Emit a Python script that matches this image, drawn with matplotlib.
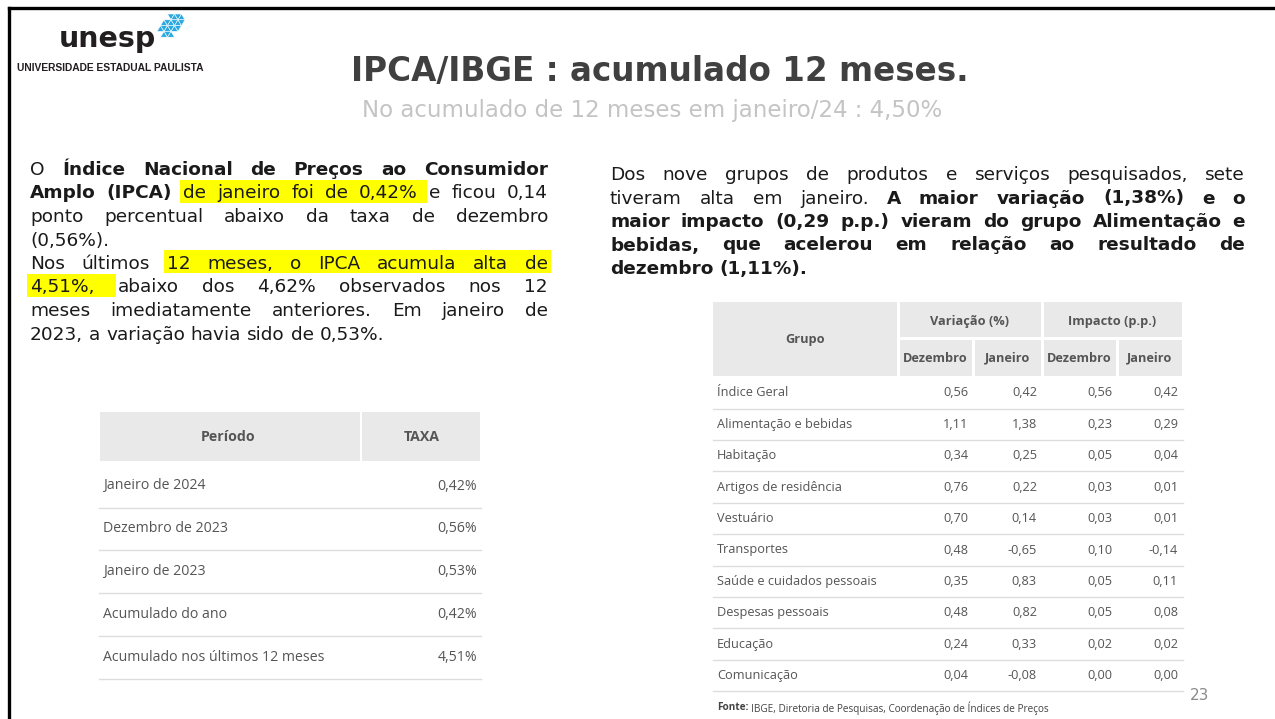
import matplotlib
matplotlib.use("Agg")
import matplotlib.pyplot as plt
from matplotlib.patches import Rectangle, Polygon

# ---- data -----------------------------------------------------------------
titulo = "IPCA/IBGE : acumulado 12 meses."
subtitulo = "No acumulado de 12 meses em janeiro/24 : 4,50%"

# paragraph lines: (segments, justified); segment style n=normal, b=bold, h=highlight
texto_esq = [
    ([("O", "n"), ("Índice Nacional de Preços ao Consumidor", "b")], True),
    ([("Amplo (IPCA)", "b"), ("de janeiro foi de 0,42%", "h"), ("e ficou 0,14", "n")], True),
    ([("ponto percentual abaixo da taxa de dezembro", "n")], True),
    ([("(0,56%).", "n")], False),
    ([("Nos últimos", "n"), ("12 meses, o IPCA acumula alta de", "h")], True),
    ([("4,51%,", "h"), ("abaixo dos 4,62% observados nos 12", "n")], True),
    ([("meses imediatamente anteriores. Em janeiro de", "n")], True),
    ([("2023, a variação havia sido de 0,53%.", "n")], False),
]
texto_dir = [
    ([("Dos nove grupos de produtos e serviços pesquisados, sete", "n")], True),
    ([("tiveram alta em janeiro.", "n"), ("A maior variação (1,38%) e o", "b")], True),
    ([("maior impacto (0,29 p.p.) vieram do grupo Alimentação e", "b")], True),
    ([("bebidas, que acelerou em relação ao resultado de", "b")], True),
    ([("dezembro (1,11%).", "b")], False),
]

periodos = ["Janeiro de 2024", "Dezembro de 2023", "Janeiro de 2023",
            "Acumulado do ano", "Acumulado nos últimos 12 meses"]
taxas = [0.42, 0.56, 0.53, 0.42, 4.51]

grupos = ["Índice Geral", "Alimentação e bebidas", "Habitação", "Artigos de residência",
          "Vestuário", "Transportes", "Saúde e cuidados pessoais", "Despesas pessoais",
          "Educação", "Comunicação"]
var_dez = [0.56, 1.11, 0.34, 0.76, 0.70, 0.48, 0.35, 0.48, 0.24, 0.04]
var_jan = [0.42, 1.38, 0.25, 0.22, 0.14, -0.65, 0.83, 0.82, 0.33, -0.08]
imp_dez = [0.56, 0.23, 0.05, 0.03, 0.03, 0.10, 0.05, 0.05, 0.02, 0.00]
imp_jan = [0.42, 0.29, 0.04, 0.01, 0.01, -0.14, 0.11, 0.08, 0.02, 0.00]

fonte = "IBGE, Diretoria de Pesquisas, Coordenação de Índices de Preços"
pagina = "23"

# ---- setup ----------------------------------------------------------------
W, H = 1275, 719
fig = plt.figure(figsize=(W / 100, H / 100), dpi=100)
ax = fig.add_axes([0, 0, 1, 1])
ax.set_xlim(0, W)
ax.set_ylim(H, 0)
ax.axis("off")
renderer = fig.canvas.get_renderer()


def text_width(s, **kw):
    t = ax.text(0, 0, s, **kw)
    w = t.get_window_extent(renderer=renderer).width
    t.remove()
    return w


def fmt(v):
    return f"{v:.2f}".replace(".", ",")


def paragraph(lines, x0, x1, y0, dy, size, color="#1a1a1a"):
    base = dict(fontsize=size, family="DejaVu Sans", color=color, va="baseline", ha="left")
    space = text_width("a a", **base) - text_width("aa", **base)
    for i, (segs, justify) in enumerate(lines):
        y = y0 + i * dy
        words = [(w, st) for txt, st in segs for w in txt.split()]
        kws = [dict(base, fontweight="bold" if st == "b" else "normal") for _, st in words]
        widths = [text_width(w, **kw) for (w, _), kw in zip(words, kws)]
        gap = (x1 - x0 - sum(widths)) / (len(words) - 1) if justify else space
        xs, x = [], x0
        for w in widths:
            xs.append(x)
            x += w + gap
        # yellow highlight boxes
        j = 0
        while j < len(words):
            if words[j][1] == "h":
                k = j
                while k + 1 < len(words) and words[k + 1][1] == "h":
                    k += 1
                left = xs[j] - 3
                right = xs[k] + widths[k] + (gap - 2 if k + 1 < len(words) else 3)
                ax.add_patch(Rectangle((left, y - 19), right - left, 23,
                                       facecolor="#ffff00", lw=0, zorder=1))
                j = k + 1
            else:
                j += 1
        for (w, _), kw, xx in zip(words, kws, xs):
            ax.text(xx, y, w, zorder=2, **kw)


# ---- frame ----------------------------------------------------------------
ax.plot([9, 9], [8, H], color="black", lw=2.4, solid_capstyle="projecting")
ax.plot([9, W], [8, 8], color="black", lw=2.4, solid_capstyle="projecting")

# ---- logo -----------------------------------------------------------------
ax.text(59, 47, "unesp", fontsize=20.5, fontweight="bold", family="DejaVu Sans",
        color="#231f20", va="baseline", ha="left")
ax.text(17, 68, "UNIVERSIDADE ESTADUAL PAULISTA", fontsize=7.4, fontweight="bold",
        family="Liberation Sans", color="#231f20", va="center", ha="left")
s = 7
rows = [(3, 7), (1, 7), (0, 6), (1, 4)]
for r, (k0, k1) in enumerate(rows):
    yt = 14 + r * 5.8
    yb = yt + 5.8
    for k in range(k0, k1):
        xl = 157 + k * s / 2
        if (k + r) % 2 == 0:
            pts = [(xl, yb), (xl + s, yb), (xl + s / 2, yt)]
        else:
            pts = [(xl, yt), (xl + s, yt), (xl + s / 2, yb)]
        ax.add_patch(Polygon(pts, closed=True, facecolor="#2aa9e0",
                             edgecolor="white", lw=0.4))

# ---- titles ---------------------------------------------------------------
ax.text(660, 72, titulo, fontsize=23.5, fontweight="bold", family="DejaVu Sans",
        color="#404040", ha="center", va="center")
ax.text(652, 111, subtitulo, fontsize=16.5, family="DejaVu Sans", color="#c4c4c4",
        ha="center", va="center")

# ---- paragraphs -----------------------------------------------------------
paragraph(texto_esq, 30, 548, 175, 23.5, 13.3)
paragraph(texto_dir, 610, 1245, 180, 23.5, 13.3)

# ---- left table -----------------------------------------------------------
tcol = "#555555"
lf = dict(family="Open Sans", fontsize=10.2, color=tcol, va="center")
edges = [99, 361, 481]
for a, b in zip(edges[:-1], edges[1:]):
    ax.add_patch(Rectangle((a + 1, 412), b - a - 2, 49, facecolor="#e9e9e9", lw=0))
ax.text(228, 437, "Período", fontweight="bold", ha="center", **lf)
ax.text(422, 437, "TAXA", fontweight="bold", ha="center", **lf)
for i, (p, t) in enumerate(zip(periodos, taxas)):
    yc = 486 + 42.8 * i
    ax.text(103, yc, p, ha="left", **lf)
    ax.text(477, yc, fmt(t) + "%", ha="right", **lf)
    ax.plot([99, 481], [yc + 21.5, yc + 21.5], color="#dddddd", lw=1)

# ---- right table ----------------------------------------------------------
rf = dict(family="Open Sans", fontsize=9.2, color=tcol)
cols = [713, 898, 973, 1042, 1117, 1183]
hdr = "#e9e9e9"
ax.add_patch(Rectangle((cols[0], 302), cols[1] - cols[0] - 1.5, 74, facecolor=hdr, lw=0))
for a, b in [(cols[1], cols[3]), (cols[3], cols[5])]:
    ax.add_patch(Rectangle((a + 1.5, 302), b - a - 3, 35, facecolor=hdr, lw=0))
for a, b in zip(cols[1:-1], cols[2:]):
    ax.add_patch(Rectangle((a + 1.5, 340), b - a - 3, 36, facecolor=hdr, lw=0))
ax.text((cols[0] + cols[1]) / 2, 339, "Grupo", fontweight="bold", ha="center", va="center", **rf)
ax.text((cols[1] + cols[3]) / 2, 321, "Variação (%)", fontweight="bold", ha="center", va="center", **rf)
ax.text((cols[3] + cols[5]) / 2, 321, "Impacto (p.p.)", fontweight="bold", ha="center", va="center", **rf)
for a, b, lab in zip(cols[1:-1], cols[2:], ["Dezembro", "Janeiro", "Dezembro", "Janeiro"]):
    ax.text((a + b) / 2, 358, lab, fontweight="bold", ha="center", va="center", **rf)

for i, g in enumerate(grupos):
    yc = 393 + 31.4 * i
    ax.text(717, yc, g, ha="left", va="center", **rf)
    for c, vals in zip(cols[2:], [var_dez, var_jan, imp_dez, imp_jan]):
        ax.text(c - 5, yc, fmt(vals[i]), ha="right", va="center", **rf)
    ax.plot([cols[0], cols[-1]], [yc + 15.6, yc + 15.6], color="#dddddd", lw=1)

# ---- footer ---------------------------------------------------------------
ff = dict(family="Open Sans", fontsize=7.2, color="#444444", va="center", ha="left")
ax.text(717, 708, "Fonte:", fontweight="bold", **ff)
wf = text_width("Fonte: ", fontweight="bold", **ff)
ax.text(717 + wf, 708, fonte, **ff)
ax.text(1209, 695, pagina, family="DejaVu Sans", fontsize=11, color="#8a8a8a",
        ha="right", va="center")

fig.savefig("out.png", dpi=100, facecolor="white")
